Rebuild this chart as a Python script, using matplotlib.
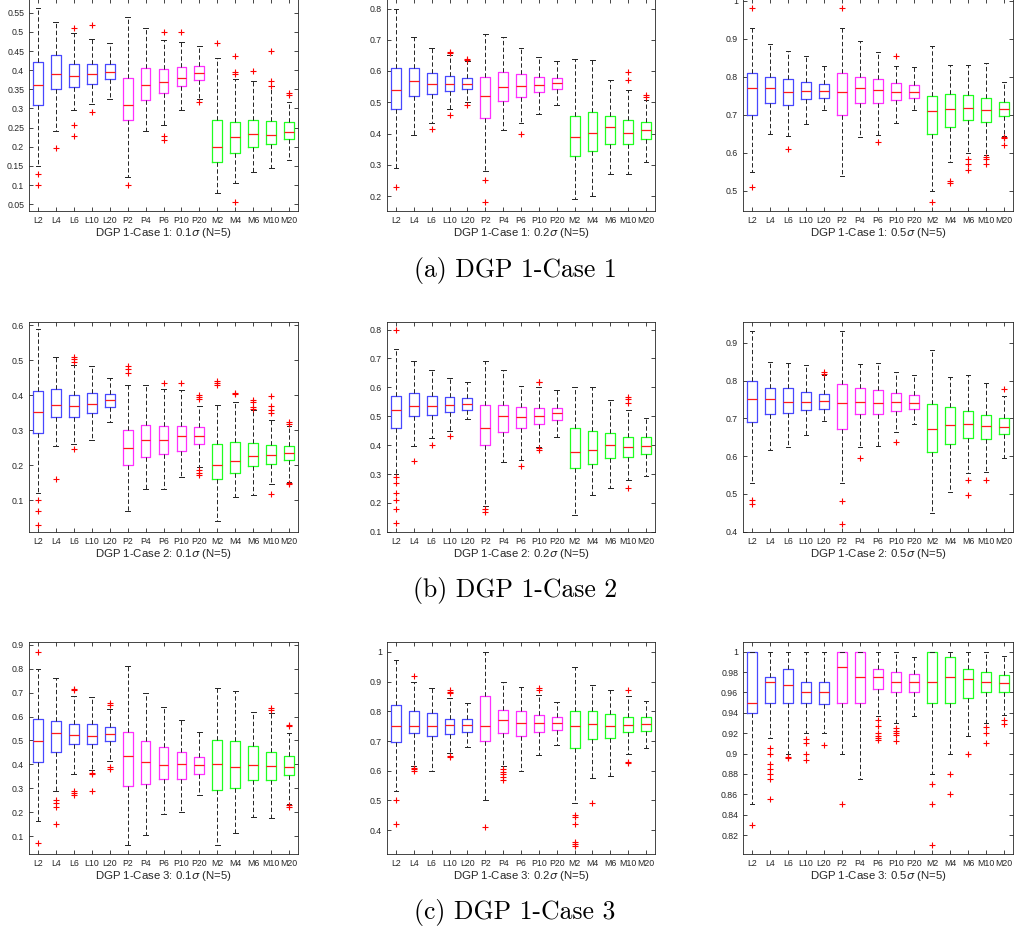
#!/usr/bin/env python3
"""Boxplots of DGP 1 cases (L / P / M models) at three noise levels."""

import matplotlib.pyplot as plt
from matplotlib.ticker import FuncFormatter, MultipleLocator

LABELS = ["L2", "L4", "L6", "L10", "L20",
          "P2", "P4", "P6", "P10", "P20",
          "M2", "M4", "M6", "M10", "M20"]
BOX_COLORS = ["#4848ff"] * 5 + ["#ff30ff"] * 5 + ["#20ff20"] * 5

# ---- Case 1, 0.1 sigma
c1_01_med = [0.36, 0.39, 0.386, 0.39, 0.396, 0.31, 0.36, 0.37, 0.38, 0.392, 0.20, 0.226, 0.233, 0.232, 0.239]
c1_01_q1 = [0.309, 0.35, 0.355, 0.365, 0.378, 0.27, 0.322, 0.34, 0.358, 0.375, 0.16, 0.185, 0.20, 0.207, 0.221]
c1_01_q3 = [0.421, 0.44, 0.415, 0.415, 0.415, 0.38, 0.405, 0.403, 0.409, 0.41, 0.27, 0.265, 0.27, 0.268, 0.264]
c1_01_lo = [0.149, 0.24, 0.296, 0.313, 0.325, 0.12, 0.24, 0.257, 0.296, 0.325, 0.08, 0.105, 0.134, 0.144, 0.166]
c1_01_hi = [0.561, 0.526, 0.497, 0.482, 0.47, 0.54, 0.511, 0.48, 0.473, 0.463, 0.432, 0.376, 0.371, 0.358, 0.318]
c1_01_out = [[0.13, 0.10], [0.197], [0.51, 0.258, 0.228], [0.517, 0.29], [],
             [0.10], [], [0.50, 0.228, 0.218], [0.50], [0.316],
             [0.47], [0.436, 0.395, 0.39, 0.055], [0.398], [0.45, 0.373, 0.358], [0.34, 0.336]]

# ---- Case 1, 0.2 sigma
c1_02_med = [0.54, 0.567, 0.557, 0.557, 0.559, 0.52, 0.549, 0.553, 0.556, 0.56, 0.389, 0.403, 0.42, 0.403, 0.41]
c1_02_q1 = [0.48, 0.52, 0.526, 0.537, 0.543, 0.449, 0.504, 0.516, 0.533, 0.542, 0.329, 0.344, 0.365, 0.368, 0.382]
c1_02_q3 = [0.609, 0.61, 0.593, 0.584, 0.579, 0.58, 0.597, 0.589, 0.58, 0.579, 0.457, 0.469, 0.457, 0.443, 0.436]
c1_02_lo = [0.29, 0.395, 0.433, 0.48, 0.502, 0.28, 0.41, 0.433, 0.463, 0.49, 0.19, 0.20, 0.272, 0.272, 0.31]
c1_02_hi = [0.80, 0.71, 0.673, 0.652, 0.632, 0.72, 0.71, 0.673, 0.646, 0.633, 0.64, 0.634, 0.57, 0.54, 0.508]
c1_02_out = [[0.23], [], [0.416], [0.66, 0.657, 0.458], [0.64, 0.635, 0.49],
             [0.25, 0.18], [], [0.40], [], [],
             [], [], [], [0.597, 0.57], [0.522, 0.518]]

# ---- Case 1, 0.5 sigma
c1_05_med = [0.77, 0.77, 0.76, 0.763, 0.762, 0.76, 0.77, 0.765, 0.76, 0.76, 0.71, 0.716, 0.717, 0.713, 0.715]
c1_05_q1 = [0.70, 0.731, 0.725, 0.741, 0.745, 0.70, 0.731, 0.731, 0.738, 0.745, 0.649, 0.668, 0.686, 0.682, 0.697]
c1_05_q3 = [0.81, 0.80, 0.794, 0.787, 0.781, 0.81, 0.80, 0.793, 0.783, 0.778, 0.75, 0.755, 0.752, 0.744, 0.734]
c1_05_lo = [0.55, 0.649, 0.643, 0.677, 0.712, 0.54, 0.641, 0.646, 0.679, 0.712, 0.50, 0.575, 0.60, 0.594, 0.644]
c1_05_hi = [0.928, 0.885, 0.868, 0.854, 0.828, 0.928, 0.894, 0.866, 0.828, 0.825, 0.88, 0.83, 0.83, 0.836, 0.787]
c1_05_out = [[0.98, 0.51], [], [0.61], [], [],
             [0.98], [], [0.628], [0.855], [],
             [0.47], [0.525, 0.52], [0.583, 0.57, 0.555], [0.59, 0.585, 0.57], [0.642, 0.638, 0.62]]

# ---- Case 2, 0.1 sigma
c2_01_med = [0.351, 0.372, 0.369, 0.375, 0.387, 0.25, 0.271, 0.273, 0.283, 0.282, 0.20, 0.211, 0.227, 0.23, 0.235]
c2_01_q1 = [0.291, 0.339, 0.339, 0.349, 0.365, 0.20, 0.224, 0.233, 0.241, 0.26, 0.16, 0.178, 0.197, 0.204, 0.214]
c2_01_q3 = [0.411, 0.418, 0.40, 0.407, 0.403, 0.30, 0.316, 0.311, 0.311, 0.309, 0.26, 0.265, 0.264, 0.259, 0.256]
c2_01_lo = [0.121, 0.256, 0.26, 0.273, 0.322, 0.069, 0.132, 0.132, 0.165, 0.196, 0.04, 0.11, 0.114, 0.145, 0.152]
c2_01_hi = [0.589, 0.51, 0.487, 0.483, 0.45, 0.429, 0.429, 0.419, 0.414, 0.368, 0.371, 0.381, 0.358, 0.329, 0.311]
c2_01_out = [[0.10, 0.07, 0.03], [0.16], [0.508, 0.502, 0.494, 0.245], [], [],
             [0.482, 0.474, 0.464], [], [0.434], [0.435], [0.40, 0.395, 0.39, 0.185, 0.178, 0.172],
             [0.44, 0.436, 0.43], [0.406, 0.403], [0.385, 0.38, 0.365, 0.36],
             [0.398, 0.368, 0.358, 0.35, 0.118], [0.322, 0.318, 0.148, 0.145]]

# ---- Case 2, 0.2 sigma
c2_02_med = [0.522, 0.536, 0.537, 0.539, 0.542, 0.461, 0.50, 0.497, 0.501, 0.51, 0.376, 0.383, 0.40, 0.394, 0.398]
c2_02_q1 = [0.461, 0.50, 0.505, 0.514, 0.521, 0.40, 0.446, 0.46, 0.474, 0.487, 0.32, 0.334, 0.357, 0.36, 0.369]
c2_02_q3 = [0.57, 0.58, 0.569, 0.566, 0.562, 0.539, 0.539, 0.533, 0.53, 0.53, 0.461, 0.45, 0.443, 0.428, 0.427]
c2_02_lo = [0.30, 0.397, 0.424, 0.449, 0.49, 0.19, 0.341, 0.35, 0.395, 0.428, 0.16, 0.226, 0.251, 0.281, 0.294]
c2_02_hi = [0.732, 0.69, 0.66, 0.631, 0.617, 0.69, 0.66, 0.606, 0.601, 0.59, 0.60, 0.60, 0.555, 0.523, 0.494]
c2_02_out = [[0.80, 0.29, 0.27, 0.233, 0.21, 0.18, 0.13], [0.345], [0.40], [0.43], [],
             [0.178, 0.17], [], [0.328], [0.62, 0.617, 0.39, 0.383], [],
             [], [], [], [0.566, 0.56, 0.545, 0.25], []]

# ---- Case 2, 0.5 sigma
c2_05_med = [0.75, 0.75, 0.744, 0.743, 0.746, 0.74, 0.744, 0.74, 0.743, 0.74, 0.671, 0.681, 0.684, 0.68, 0.677]
c2_05_q1 = [0.69, 0.711, 0.713, 0.721, 0.725, 0.671, 0.711, 0.711, 0.719, 0.725, 0.61, 0.631, 0.649, 0.646, 0.658]
c2_05_q3 = [0.80, 0.781, 0.781, 0.769, 0.764, 0.791, 0.781, 0.774, 0.767, 0.761, 0.739, 0.73, 0.719, 0.709, 0.702]
c2_05_lo = [0.53, 0.616, 0.624, 0.656, 0.693, 0.53, 0.625, 0.627, 0.665, 0.684, 0.45, 0.506, 0.556, 0.559, 0.596]
c2_05_hi = [0.93, 0.849, 0.846, 0.84, 0.815, 0.93, 0.844, 0.846, 0.823, 0.814, 0.88, 0.81, 0.814, 0.794, 0.759]
c2_05_out = [[0.483, 0.473], [], [], [], [0.822, 0.818],
             [0.481, 0.42], [0.594], [], [0.637], [],
             [], [], [0.536, 0.497], [0.536], [0.778]]

# ---- Case 3, 0.1 sigma
c3_01_med = [0.497, 0.53, 0.524, 0.518, 0.526, 0.437, 0.412, 0.398, 0.40, 0.396, 0.40, 0.39, 0.397, 0.393, 0.39]
c3_01_q1 = [0.412, 0.452, 0.485, 0.486, 0.497, 0.311, 0.319, 0.339, 0.339, 0.358, 0.293, 0.303, 0.335, 0.335, 0.355]
c3_01_q3 = [0.59, 0.58, 0.571, 0.568, 0.557, 0.536, 0.499, 0.474, 0.45, 0.432, 0.50, 0.497, 0.478, 0.45, 0.433]
c3_01_lo = [0.161, 0.29, 0.358, 0.375, 0.414, 0.064, 0.103, 0.192, 0.20, 0.272, 0.064, 0.113, 0.18, 0.175, 0.235]
c3_01_hi = [0.80, 0.761, 0.685, 0.68, 0.63, 0.81, 0.70, 0.64, 0.586, 0.536, 0.721, 0.706, 0.62, 0.617, 0.53]
c3_01_out = [[0.87, 0.07], [0.25, 0.238, 0.22, 0.15], [0.715, 0.71, 0.288, 0.28, 0.27],
             [0.365, 0.36, 0.29], [0.655, 0.65, 0.39, 0.38],
             [], [], [], [], [],
             [], [], [], [0.635, 0.628], [0.565, 0.56, 0.228, 0.222]]

# ---- Case 3, 0.2 sigma
c3_02_med = [0.75, 0.75, 0.75, 0.753, 0.755, 0.75, 0.77, 0.76, 0.759, 0.759, 0.75, 0.756, 0.75, 0.753, 0.757]
c3_02_q1 = [0.697, 0.726, 0.717, 0.725, 0.731, 0.70, 0.726, 0.717, 0.731, 0.736, 0.676, 0.707, 0.709, 0.729, 0.733]
c3_02_q3 = [0.82, 0.80, 0.794, 0.773, 0.775, 0.85, 0.803, 0.80, 0.788, 0.78, 0.80, 0.80, 0.791, 0.78, 0.78]
c3_02_lo = [0.531, 0.615, 0.60, 0.659, 0.68, 0.50, 0.615, 0.598, 0.654, 0.685, 0.491, 0.576, 0.583, 0.656, 0.676]
c3_02_hi = [0.972, 0.90, 0.878, 0.844, 0.827, 1.0, 0.90, 0.883, 0.855, 0.831, 0.95, 0.89, 0.87, 0.85, 0.836]
c3_02_out = [[0.50, 0.42], [0.92, 0.61, 0.605, 0.60], [], [0.87, 0.865, 0.86, 0.648, 0.645], [],
             [0.41], [0.605, 0.597, 0.588, 0.578, 0.57], [], [0.877, 0.872], [],
             [0.451, 0.445, 0.42, 0.36, 0.355, 0.347], [0.49], [], [0.87, 0.63, 0.625], []]

# ---- Case 3, 0.5 sigma
c3_05_med = [0.95, 0.97, 0.967, 0.96, 0.96, 0.985, 0.975, 0.975, 0.97, 0.97, 0.97, 0.975, 0.973, 0.97, 0.969]
c3_05_q1 = [0.94, 0.95, 0.95, 0.95, 0.949, 0.95, 0.95, 0.963, 0.96, 0.96, 0.95, 0.95, 0.955, 0.96, 0.96]
c3_05_q3 = [1.0, 0.975, 0.983, 0.97, 0.97, 1.0, 1.0, 0.983, 0.98, 0.978, 1.0, 0.995, 0.983, 0.98, 0.977]
c3_05_lo = [0.85, 0.915, 0.90, 0.92, 0.92, 0.90, 0.875, 0.937, 0.93, 0.937, 0.88, 0.90, 0.917, 0.93, 0.938]
c3_05_hi = [1.0, 1.0, 1.0, 1.0, 1.0, 1.0, 1.0, 1.0, 1.0, 0.995, 1.0, 1.0, 1.0, 1.0, 0.996]
c3_05_out = [[0.83], [0.905, 0.90, 0.89, 0.885, 0.88, 0.875, 0.855], [0.897, 0.896],
             [0.914, 0.91, 0.90, 0.894], [0.908],
             [0.85], [], [0.933, 0.927, 0.92, 0.917, 0.915, 0.913], [0.925, 0.922, 0.92, 0.918, 0.912], [],
             [0.87, 0.85, 0.81], [0.88, 0.86], [0.90], [0.926, 0.92, 0.91], [0.933, 0.929]]

PANELS = [
    (c1_01_med, c1_01_q1, c1_01_q3, c1_01_lo, c1_01_hi, c1_01_out, "1", "0.1"),
    (c1_02_med, c1_02_q1, c1_02_q3, c1_02_lo, c1_02_hi, c1_02_out, "1", "0.2"),
    (c1_05_med, c1_05_q1, c1_05_q3, c1_05_lo, c1_05_hi, c1_05_out, "1", "0.5"),
    (c2_01_med, c2_01_q1, c2_01_q3, c2_01_lo, c2_01_hi, c2_01_out, "2", "0.1"),
    (c2_02_med, c2_02_q1, c2_02_q3, c2_02_lo, c2_02_hi, c2_02_out, "2", "0.2"),
    (c2_05_med, c2_05_q1, c2_05_q3, c2_05_lo, c2_05_hi, c2_05_out, "2", "0.5"),
    (c3_01_med, c3_01_q1, c3_01_q3, c3_01_lo, c3_01_hi, c3_01_out, "3", "0.1"),
    (c3_02_med, c3_02_q1, c3_02_q3, c3_02_lo, c3_02_hi, c3_02_out, "3", "0.2"),
    (c3_05_med, c3_05_q1, c3_05_q3, c3_05_lo, c3_05_hi, c3_05_out, "3", "0.5"),
]
CAPTIONS = ["(a) DGP 1-Case 1", "(b) DGP 1-Case 2", "(c) DGP 1-Case 3"]

# axis ranges and tick steps, one per panel
YLIMS = [(0.0325, 0.587), (0.152, 0.832), (0.447, 1.006),
         (0.009, 0.609), (0.0995, 0.826), (0.399, 0.955),
         (0.025, 0.912), (0.32, 1.033), (0.8014, 1.0095)]
YSTEPS = [0.05, 0.1, 0.1, 0.1, 0.1, 0.1, 0.1, 0.1, 0.02]

# layout in pixels of the 1015 x 932 image
W, H = 1015, 932
COL_X = [(29, 298), (387, 655), (743, 1013)]
ROW_Y = [(-1.5, 211), (322, 532), (642, 854)]
CAPTION_Y = [270, 591, 912]
INK = "#262626"


def main() -> None:
    fig = plt.figure(figsize=(W / 100, H / 100), dpi=100)
    for i, (med, q1, q3, lo, hi, out, case, sig) in enumerate(PANELS):
        r, c = divmod(i, 3)
        x0, x1 = COL_X[c]
        y0, y1 = ROW_Y[r]
        ax = fig.add_axes([x0 / W, 1 - y1 / H, (x1 - x0) / W, (y1 - y0) / H])

        stats = [
            {"med": med[k], "q1": q1[k], "q3": q3[k], "whislo": lo[k],
             "whishi": hi[k], "fliers": out[k], "label": LABELS[k]}
            for k in range(len(LABELS))
        ]
        parts = ax.bxp(
            stats,
            positions=range(1, len(LABELS) + 1),
            widths=0.55,
            capwidths=0.27,
            boxprops=dict(linewidth=0.9),
            medianprops=dict(color="#ff1a1a", linewidth=0.9),
            whiskerprops=dict(color="#222222", linewidth=0.7, linestyle=(0, (4.5, 2.5))),
            capprops=dict(color="#222222", linewidth=0.7),
            flierprops=dict(marker="+", markeredgecolor="#ff0000", markersize=5,
                            markeredgewidth=0.8, linestyle="none"),
        )
        for box, col in zip(parts["boxes"], BOX_COLORS):
            box.set_color(col)

        ax.set_xlim(0.5, len(LABELS) + 0.5)
        ax.set_ylim(*YLIMS[i])
        ax.yaxis.set_major_locator(MultipleLocator(YSTEPS[i]))
        ax.yaxis.set_major_formatter(FuncFormatter(lambda v, p: f"{v:g}"))
        ax.tick_params(direction="in", top=True, right=True, length=3, width=0.6,
                       colors=INK, labelsize=6.3, pad=3.5)
        for sp in ax.spines.values():
            sp.set_color(INK)
            sp.set_linewidth(0.6)
        ax.set_xlabel(f"DGP 1-Case {case}: {sig}$\\sigma$ (N=5)", fontsize=8.2,
                      color=INK, labelpad=1.0)

    for cap, y in zip(CAPTIONS, CAPTION_Y):
        fig.text(515 / W, 1 - y / H, cap, family="cmr10", fontsize=18.5,
                 ha="center", va="center")

    fig.savefig("out.png", dpi=100)
    plt.close(fig)


if __name__ == "__main__":
    plt.rcParams["font.family"] = ["Liberation Sans", "DejaVu Sans"]
    main()
